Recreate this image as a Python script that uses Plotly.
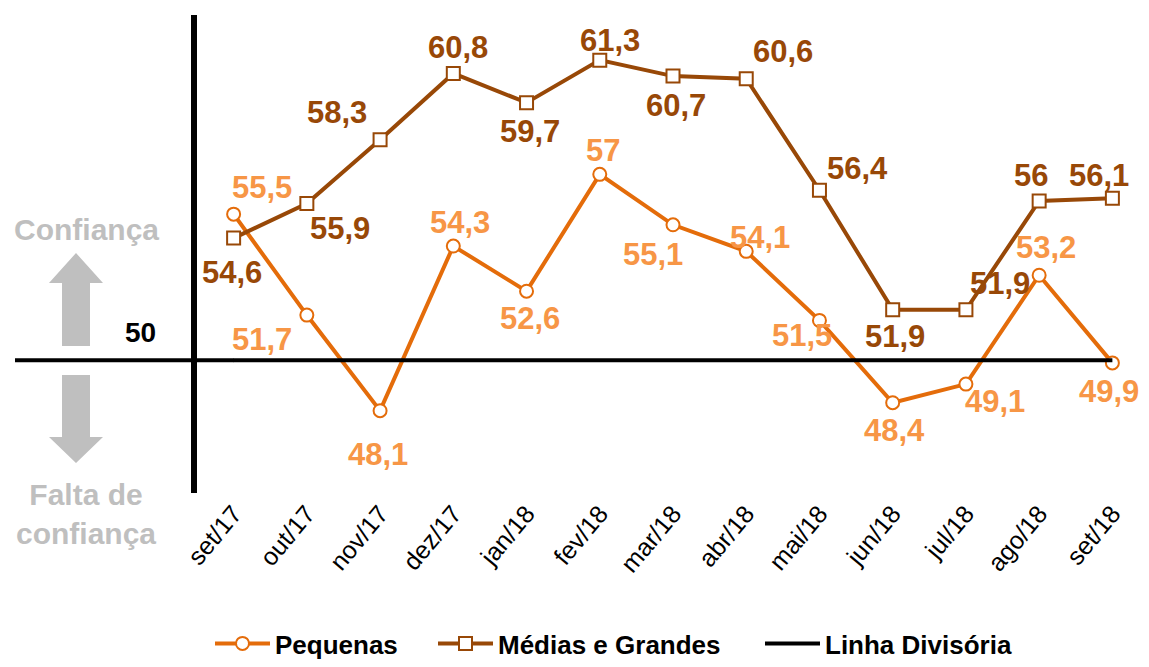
import plotly.graph_objects as go

meses = ["set/17", "out/17", "nov/17", "dez/17", "jan/18", "fev/18", "mar/18",
         "abr/18", "mai/18", "jun/18", "jul/18", "ago/18", "set/18"]
pequenas = [55.5, 51.7, 48.1, 54.3, 52.6, 57.0, 55.1, 54.1, 51.5, 48.4, 49.1, 53.2, 49.9]
medias_grandes = [54.6, 55.9, 58.3, 60.8, 59.7, 61.3, 60.7, 60.6, 56.4, 51.9, 51.9, 56.0, 56.1]
linha_divisoria = [50] * len(meses)

# label offsets (pixels) - styling only
off_peq = [(28, 27), (-45, -24), (-2, -44), (7, 24), (3, -27), (3, 24), (-20, -30),
           (14, 14), (-17, -15), (2, -28), (29, -17), (7, 28), (-3, -29)]
off_med = [(-2, -34), (33, -25), (-43, 27), (5, 26), (3, -29), (10, 20), (3, -29),
           (37, 27), (38, 22), (2, -27), (34, 26), (-8, 25), (-13, 23)]

C_PEQ = "#E46C0A"
C_PEQ_LBL = "#F79646"
C_MED = "#984807"
FONT = "Liberation Sans, Arial, sans-serif"

W, H = 1149, 667
L, R, T, B = 197, 0, 15, 174
PW, PH = W - L - R, H - T - B

def px(x):
    return (x - L) / PW

def py(y):
    return (H - B - y) / PH

x = list(range(len(meses)))
fig = go.Figure()
fig.add_trace(go.Scatter(x=x, y=pequenas, name="Pequenas", mode="lines+markers",
                         legend="legend",
                         line=dict(color=C_PEQ, width=4),
                         marker=dict(symbol="circle", size=13, color="white",
                                     line=dict(color=C_PEQ, width=2))))
fig.add_trace(go.Scatter(x=x, y=medias_grandes, name="Médias e Grandes", mode="lines+markers",
                         legend="legend2",
                         line=dict(color=C_MED, width=4),
                         marker=dict(symbol="square", size=13, color="white",
                                     line=dict(color=C_MED, width=2))))
fig.add_trace(go.Scatter(x=x, y=linha_divisoria, name="Linha Divisória", mode="lines",
                         legend="legend3",
                         line=dict(color="black", width=4)))

def fmt(v):
    s = ("%.1f" % v).replace(".", ",")
    return s[:-2] if s.endswith(",0") else s

for i, v in enumerate(pequenas):
    fig.add_annotation(x=i, y=v, text=fmt(v), showarrow=False,
                       xanchor="center", yanchor="middle",
                       xshift=off_peq[i][0], yshift=off_peq[i][1],
                       font=dict(family=FONT, size=31, color=C_PEQ_LBL, weight="bold"))
for i, v in enumerate(medias_grandes):
    fig.add_annotation(x=i, y=v, text=fmt(v), showarrow=False,
                       xanchor="center", yanchor="middle",
                       xshift=off_med[i][0], yshift=off_med[i][1],
                       font=dict(family=FONT, size=31, color=C_MED, weight="bold"))

# extension of divisory line to the left
fig.add_shape(type="line", xref="paper", yref="y", x0=px(15), x1=px(234), y0=50, y1=50,
              line=dict(color="black", width=4))

GRAY = "#BFBFBF"
# up arrow
fig.add_shape(type="path", xref="paper", yref="paper",
              path="M {a},{t} L {b},{h} L {c},{h} L {c},{bt} L {d},{bt} L {d},{h} L {e},{h} Z".format(
                  a=px(76), t=py(253), b=px(103), h=py(283), c=px(90), bt=py(346), d=px(62), e=px(49)),
              fillcolor=GRAY, line=dict(width=0))
# down arrow
fig.add_shape(type="path", xref="paper", yref="paper",
              path="M {a},{t} L {b},{h} L {c},{h} L {c},{bt} L {d},{bt} L {d},{h} L {e},{h} Z".format(
                  a=px(76), t=py(463), b=px(103), h=py(437), c=px(90), bt=py(375), d=px(62), e=px(49)),
              fillcolor=GRAY, line=dict(width=0))

fig.add_annotation(xref="paper", yref="paper", x=px(86), y=py(229), text="Confiança",
                   xanchor="center", yanchor="middle",
                   showarrow=False, font=dict(family=FONT, size=30, color=GRAY, weight="bold"))
fig.add_annotation(xref="paper", yref="paper", x=px(86), y=py(514), text="Falta de<br>confiança",
                   xanchor="center", yanchor="middle",
                   showarrow=False, font=dict(family=FONT, size=30, color=GRAY, weight="bold"))
fig.add_annotation(xref="paper", yref="paper", x=px(140), y=py(332), text="50",
                   xanchor="center", yanchor="middle",
                   showarrow=False, font=dict(family=FONT, size=28, color="black", weight="bold"))

def leg(xpix):
    return dict(orientation="h", x=px(xpix), xanchor="left", y=-0.008, yref="container",
                yanchor="bottom", bgcolor="rgba(0,0,0,0)",
                font=dict(family=FONT, size=26, color="black", weight="bold"),
                itemwidth=55, tracegroupgap=0)

fig.update_layout(
    width=W, height=H,
    margin=dict(l=L, r=R, t=T, b=B, autoexpand=False),
    plot_bgcolor="white", paper_bgcolor="white",
    showlegend=True,
    legend=leg(210),
    legend2=leg(433),
    legend3=leg(760),
    xaxis=dict(range=[-0.5, 12.5], tickmode="array", tickvals=x, ticktext=meses,
               tickangle=-50, showgrid=False, zeroline=False, showline=False, ticks="",
               automargin=False,
               tickfont=dict(family=FONT, size=25, color="black")),
    yaxis=dict(range=[45, 63], showgrid=False, zeroline=False, showticklabels=False,
               automargin=False,
               showline=True, linecolor="black", linewidth=6, ticks=""),
)
fig.write_html("out.html", config={"displayModeBar": False},
               post_script="document.body.style.margin='0';document.body.style.overflow='hidden';")
